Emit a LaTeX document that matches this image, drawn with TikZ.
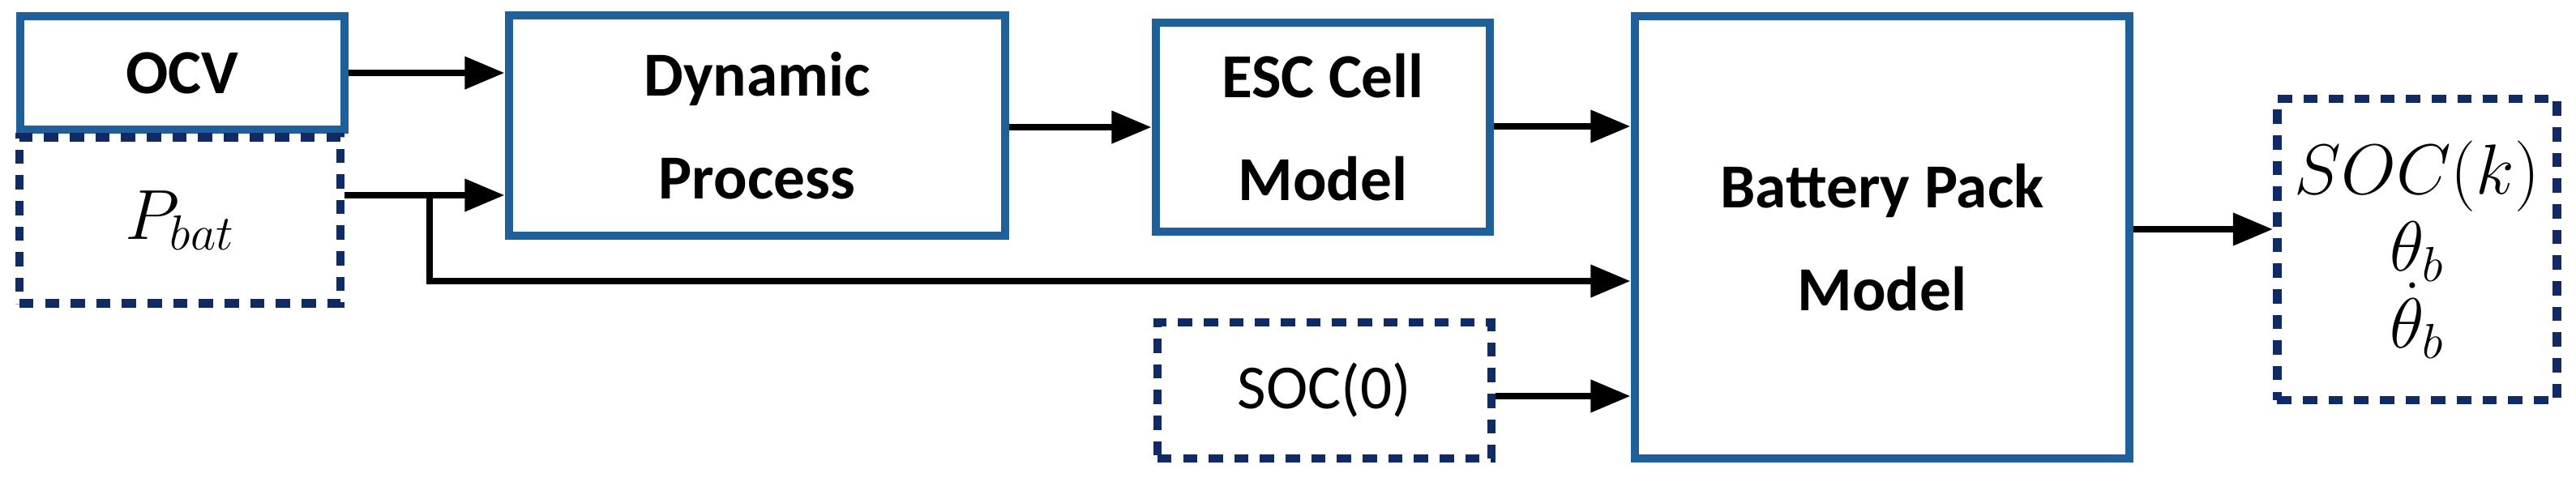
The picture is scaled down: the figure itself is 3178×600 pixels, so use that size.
\documentclass[tikz,border=0pt]{standalone}
\usepackage{fontspec}
\setmainfont{Carlito}
\usetikzlibrary{arrows.meta}
\definecolor{sblue}{HTML}{1F5F9A}
\definecolor{dnavy}{HTML}{102A66}
\begin{document}
\begin{tikzpicture}[x=0.01cm,y=-0.01cm,
  solid box/.style={draw=sblue,line width=3pt,fill=white,font=\fontsize{22}{26}\selectfont\bfseries,align=center,inner sep=0pt},
  dash box/.style={draw=dnavy,line width=3pt,dash pattern=on 5pt off 4pt,fill=white,font=\fontsize{24}{29}\selectfont,align=center,inner sep=0pt},
  arr/.style={-{Triangle[length=14pt,width=11pt]},line width=2.4pt}]
\useasboundingbox (0,0) rectangle (3178,600);
\node[solid box,minimum width=4cm,minimum height=1.4cm] (ocv) at (225,90) {OCV};
\node[dash box,minimum width=3.96cm,minimum height=2.05cm] (pbat) at (222,272) {$P_{bat}$};
\node[solid box,minimum width=6.12cm,minimum height=2.72cm] (dp) at (934,155) {Dynamic\\[10pt]Process};
\node[solid box,minimum width=4.12cm,minimum height=2.58cm] (esc) at (1632,157) {ESC Cell\\[10pt]Model};
\node[solid box,minimum width=6.1cm,minimum height=5.46cm] (bpm) at (2322,293) {Battery Pack\\[10pt]Model};
\node[dash box,minimum width=4.12cm,minimum height=1.68cm,font=\fontsize{22}{26}\selectfont] (soc0) at (1634,482) {SOC(0)};
\node[dash box,minimum width=3.45cm,minimum height=3.72cm] (out) at (2982,308) {$SOC(k)$\\[-2pt]$\theta_b$\\[-2pt]$\dot\theta_b$};
\coordinate (br) at (530,241);
\draw[arr] (ocv.east |- 0,90) -- (dp.west |- 0,90);
\draw[arr] (pbat.east |- br) -- (dp.west |- br);
\draw[arr] (br) |- (bpm.west |- 0,347);
\draw[arr] (dp.east |- 0,157) -- (esc.west |- 0,157);
\draw[arr] (esc.east |- 0,156) -- (bpm.west |- 0,156);
\draw[arr] (soc0.east |- 0,489) -- (bpm.west |- 0,489);
\draw[arr] (bpm.east |- 0,283) -- (out.west |- 0,283);
\end{tikzpicture}
\end{document}
